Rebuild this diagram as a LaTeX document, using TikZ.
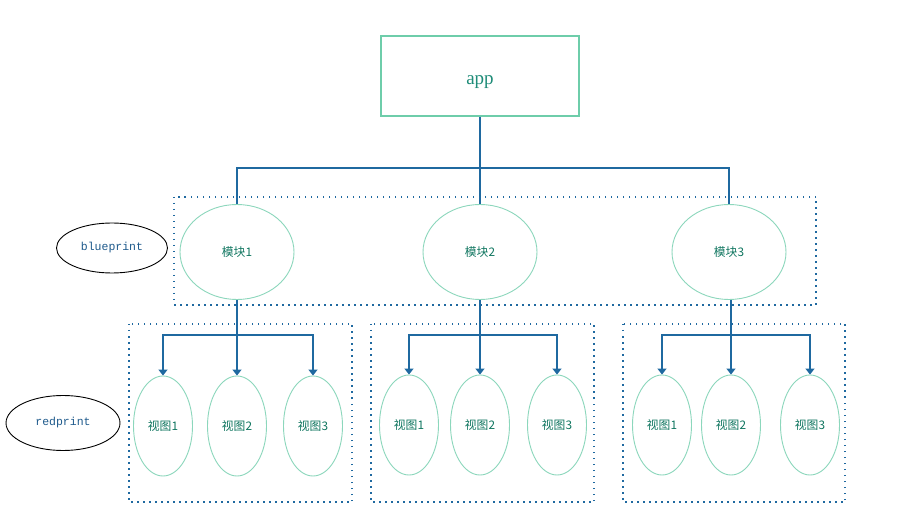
\documentclass[tikz,border=0pt]{standalone}
\usepackage{fontspec}
\setmainfont{Liberation Serif}
\newfontfamily\cjk{Noto Sans CJK SC}
\newfontfamily\monofnt{Liberation Mono}
\usetikzlibrary{shapes.geometric,arrows.meta}
\definecolor{mint}{RGB}{110,205,170}
\definecolor{mintl}{RGB}{140,215,188}
\definecolor{linkblue}{RGB}{31,105,160}
\definecolor{tgreen}{RGB}{16,118,96}
\definecolor{appgreen}{RGB}{30,140,120}
\definecolor{mblue}{RGB}{30,90,140}
\begin{document}
\begin{tikzpicture}[x=1pt,y=-1pt,
  appbox/.style={draw=mint,line width=1.2pt,minimum width=198pt,minimum height=80pt,inner sep=0pt,text height=18pt,text depth=0pt,font=\fontsize{19}{21}\selectfont,text=appgreen},
  modell/.style={ellipse,draw=mintl,line width=0.9pt,minimum width=114pt,minimum height=95pt,inner sep=0pt,font=\cjk\fontsize{11.8}{13}\selectfont,text=tgreen},
  viewell/.style={ellipse,draw=mintl,line width=0.9pt,minimum width=59pt,minimum height=100pt,inner sep=0pt,font=\cjk\fontsize{11.8}{13}\selectfont,text=tgreen},
  tagell/.style={ellipse,draw=black,line width=0.9pt,inner sep=0pt,font=\monofnt\fontsize{11.5}{13}\selectfont,text=mblue},
  conn/.style={draw=linkblue,line width=1.3pt},
  arr/.style={conn,-{Triangle[length=6pt,width=9pt]}},
  dotbox/.style={draw=linkblue,line width=1.5pt,dash pattern=on 1.5pt off 4.5pt}
]
\useasboundingbox (0,0) rectangle (921,521);
\fill[white] (0,0) rectangle (921,521);

% dotted group boxes
\draw[dotbox] (174,197) rectangle (816,305);
\draw[dotbox] (129,324) rectangle (352,502);
\draw[dotbox] (371,324) rectangle (594,502);
\draw[dotbox] (623,324) rectangle (845,502);

% nodes
\node[appbox] (app) at (480,76) {app};
\node[modell] (m1) at (237,252) {模块1};
\node[modell] (m2) at (480,252) {模块2};
\node[modell] (m3) at (729,252) {模块3};

\node[tagell,minimum width=111pt,minimum height=50pt] (bp) at (112,248) {blueprint};
\node[tagell,minimum width=114pt,minimum height=55pt] (rp) at (63,423) {redprint};

\node[viewell] (v11) at (163,426) {视图1};
\node[viewell] (v12) at (237,426) {视图2};
\node[viewell] (v13) at (313,426) {视图3};
\node[viewell] (v21) at (409,425) {视图1};
\node[viewell] (v22) at (480,425) {视图2};
\node[viewell] (v23) at (557,425) {视图3};
\node[viewell] (v31) at (662,425) {视图1};
\node[viewell] (v32) at (731,425) {视图2};
\node[viewell] (v33) at (810,425) {视图3};

% top connectors
\coordinate (hub) at (480,168);
\draw[conn] (app.south) -- (m2.north);
\draw[conn] (m1.north) |- (hub) -| (m3.north);

% group connectors
\coordinate (h1) at (237,335);
\coordinate (h2) at (480,335);
\coordinate (h3) at (731,335);
\draw[arr] (m1.south) -- (v12.north);
\draw[arr] (h1) -| (v11.north);
\draw[arr] (h1) -| (v13.north);
\draw[arr] (m2.south) -- (v22.north);
\draw[arr] (h2) -| (v21.north);
\draw[arr] (h2) -| (v23.north);
\draw[arr] (m3.south -| v32.north) -- (v32.north);
\draw[arr] (h3) -| (v31.north);
\draw[arr] (h3) -| (v33.north);
\end{tikzpicture}
\end{document}
